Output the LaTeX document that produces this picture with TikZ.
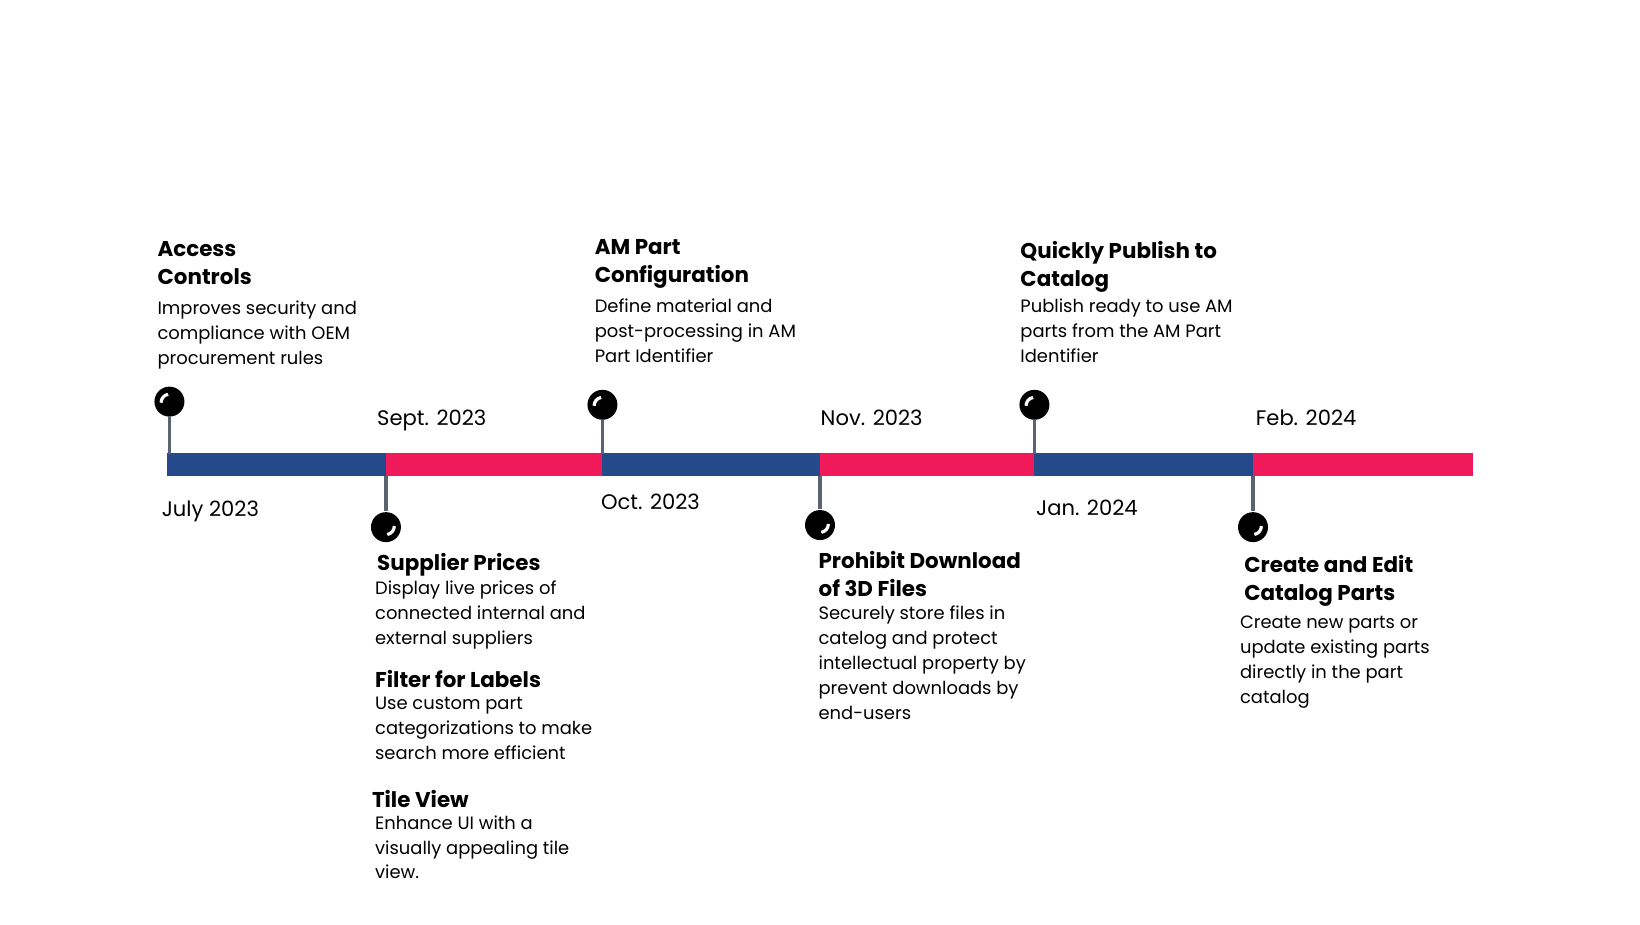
\documentclass[tikz,border=0pt]{standalone}
\usepackage{fontspec}
\setmainfont{Poppins}
\usepackage{tikz}
\usetikzlibrary{positioning}
\definecolor{barblue}{HTML}{244A8C}
\definecolor{barred}{HTML}{F0195A}
\definecolor{stemgray}{HTML}{5A6470}
\tikzset{
  seg/.style={line width=0.23cm},
  pin/.style={circle, fill=black, minimum size=0.3cm, inner sep=0pt},
  stem/.style={stemgray, line width=0.9pt},
  head/.style={anchor=north west, inner sep=0pt, align=left, font=\fontsize{6.1}{8.0}\selectfont\bfseries},
  body/.style={anchor=north west, inner sep=0pt, align=left, font=\fontsize{5.1}{7.1}\selectfont},
  date/.style={anchor=north west, inner sep=0pt, font=\fontsize{6.0}{7.5}\selectfont}
}
\begin{document}
\begin{tikzpicture}[x=0.01046cm, y=-0.01046cm]
		% canvas
		\useasboundingbox (0,0) rectangle (1568,884);
		% bar segments
		\coordinate (b0) at (160,444);
		\coordinate (b1) at (369,444);
		\coordinate (b2) at (576,444);
		\coordinate (b3) at (784,444);
		\coordinate (b4) at (989,444);
		\coordinate (b5) at (1198,444);
		\coordinate (b6) at (1408,444);
		\draw[seg, barblue] (b0) -- (b1);
		\draw[seg, barred] (b1) -- (b2);
		\draw[seg, barblue] (b2) -- (b3);
		\draw[seg, barred] (b3) -- (b4);
		\draw[seg, barblue] (b4) -- (b5);
		\draw[seg, barred] (b5) -- (b6);
		% pins
		\node[pin] (p1) at (162,384){};
		\node[pin] (p2) at (369,504){};
		\node[pin] (p3) at (576,387){};
		\node[pin] (p4) at (784,502){};
		\node[pin] (p5) at (989,387){};
		\node[pin] (p6) at (1198,504){};
		\draw[stem] (p1) -- (162,434);
		\draw[stem] (p2) -- (369,455);
		\draw[stem] (p3) -- (576,434);
		\draw[stem] (p4) -- (784,455);
		\draw[stem] (p5) -- (989,434);
		\draw[stem] (p6) -- (1198,455);
		\foreach \p in {p1,p3,p5}
			\draw[white, line width=0.9pt] ([shift={(-8,1)}]\p.center) arc[start angle=180, end angle=100, radius=0.085cm];
		\foreach \p in {p2,p4,p6}
			\draw[white, line width=0.9pt] ([shift={(8,-1)}]\p.center) arc[start angle=0, end angle=-80, radius=0.085cm];
		% dates
		\node[date] (d1) at (154,478){July 2023};
		\node[date] (d2) at (360,391){Sept. 2023};
		\node[date] (d3) at (574,472){Oct. 2023};
		\node[date] (d4) at (784,391){Nov. 2023};
		\node[date] (d5) at (990,477){Jan. 2024};
		\node[date] (d6) at (1200,391){Feb. 2024};
		% features above
		\node[head] (h1) at (150,230){Access\\Controls};
		\node[body] (t1) at (150,287){Improves security and\\compliance with OEM\\procurement rules};
		\node[head] (h3) at (568,228){AM Part\\Configuration};
		\node[body] (t3) at (568,285){Define material and\\post-processing in AM\\Part Identifier};
		\node[head] (h5) at (975,230){Quickly Publish to\\Catalog};
		\node[body] (t5) at (975,285){Publish ready to use AM\\parts from the AM Part\\Identifier};
		% features below
		\node[head] (h2) at (360,528){Supplier Prices};
		\node[body] (t2) at (358,555){Display live prices of\\connected internal and\\external suppliers};
		\node[head] (h2b) at (358,640){Filter for Labels};
		\node[body] (t2b) at (358,666){Use custom part\\categorizations to make\\search more efficient};
		\node[head] (h2c) at (355,755){Tile View};
		\node[body] (t2c) at (358,779){Enhance UI with a\\visually appealing tile\\view.};
		\node[head] (h4) at (782,526){Prohibit Download\\of 3D Files};
		\node[body] (t4) at (782,579){Securely store files  in\\catelog and protect\\intellectual property by\\prevent downloads by\\end-users};
		\node[head] (h6) at (1189,530){Create and Edit\\Catalog Parts};
		\node[body] (t6) at (1185,588){Create new parts or\\update existing parts\\directly in the part\\catalog};
	\end{tikzpicture}
\end{document}
